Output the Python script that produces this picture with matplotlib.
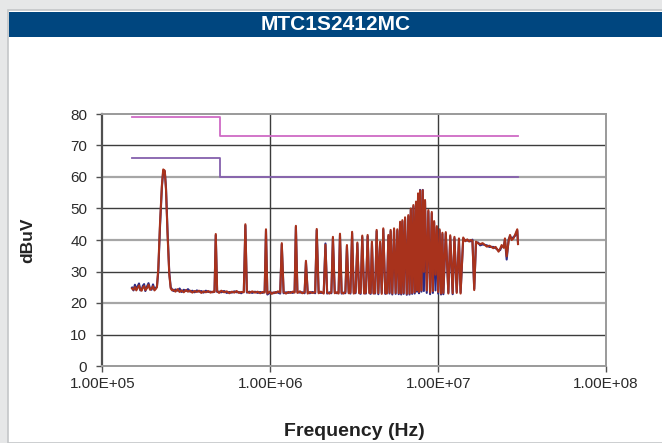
import matplotlib
matplotlib.use("Agg")
import matplotlib.pyplot as plt
from matplotlib.patches import Rectangle
from matplotlib.ticker import FixedLocator, FuncFormatter

# conducted emission scan (Hz, dBuV)
freq_hz = [
    1.50e5, 1.53e5, 1.56e5, 1.59e5, 1.62e5, 1.65e5, 1.68e5, 1.71e5, 1.74e5,
    1.77e5, 1.80e5, 1.84e5, 1.88e5, 1.92e5, 1.96e5, 2.00e5, 2.04e5, 2.08e5,
    2.11e5, 2.15e5, 2.20e5, 2.26e5, 2.30e5, 2.35e5, 2.39e5, 2.44e5, 2.50e5, 2.55e5, 2.60e5,
    2.65e5, 2.72e5, 2.80e5, 2.88e5, 2.96e5, 3.05e5, 3.14e5, 3.23e5, 3.33e5, 3.43e5,
    3.54e5, 3.65e5, 3.76e5, 3.88e5, 4.00e5, 4.13e5, 4.26e5, 4.40e5, 4.55e5, 4.65e5,
    4.73e5, 4.82e5, 4.95e5, 5.10e5, 5.30e5, 5.50e5, 5.70e5, 5.90e5, 6.10e5, 6.30e5,
    6.50e5, 6.70e5, 6.95e5, 7.10e5, 7.25e5, 7.50e5, 7.80e5, 8.10e5,
    8.40e5, 8.70e5, 9.00e5, 9.25e5, 9.42e5, 9.60e5, 9.90e5, 1.02e6,
    1.05e6, 1.08e6, 1.11e6, 1.145e6, 1.17e6, 1.20e6, 1.24e6, 1.28e6,
    1.32e6, 1.36e6, 1.395e6, 1.42e6, 1.45e6, 1.50e6, 1.55e6, 1.60e6,
    1.63e6, 1.67e6, 1.72e6, 1.78e6, 1.85e6, 1.89e6, 1.94e6, 2.00e6,
    2.08e6, 2.13e6, 2.18e6, 2.25e6, 2.31e6, 2.36e6, 2.42e6, 2.49e6,
    2.55e6, 2.60e6, 2.66e6, 2.73e6, 2.80e6, 2.86e6, 2.93e6, 3.00e6,
    3.07e6, 3.14e6, 3.22e6, 3.30e6, 3.38e6, 3.45e6, 3.53e6, 3.62e6,
    3.71e6, 3.80e6, 3.89e6, 3.96e6, 4.03e6, 4.12e6, 4.21e6, 4.30e6,
    4.40e6, 4.51e6, 4.61e6, 4.71e6, 4.84e6, 4.95e6, 5.05e6, 5.13e6,
    5.21e6, 5.33e6, 5.46e6, 5.58e6, 5.71e6, 5.82e6, 5.93e6, 6.02e6,
    6.12e6, 6.23e6, 6.35e6, 6.50e6, 6.64e6, 6.75e6, 6.87e6, 7.00e6,
    7.12e6, 7.25e6, 7.38e6, 7.48e6, 7.59e6, 7.69e6, 7.80e6, 7.95e6,
    8.09e6, 8.22e6, 8.35e6, 8.55e6, 8.74e6, 8.95e6, 9.16e6, 9.30e6,
    9.46e6, 9.64e6, 9.82e6, 1.00e7, 1.02e7, 1.04e7, 1.06e7, 1.074e7,
    1.11e7, 1.15e7, 1.18e7, 1.22e7, 1.25e7, 1.29e7, 1.33e7, 1.36e7,
    1.41e7, 1.45e7, 1.49e7, 1.53e7, 1.56e7, 1.60e7, 1.64e7, 1.68e7,
    1.73e7, 1.78e7, 1.84e7, 1.95e7, 2.02e7, 2.13e7, 2.20e7, 2.29e7,
    2.34e7, 2.39e7, 2.46e7, 2.50e7, 2.56e7, 2.63e7, 2.68e7, 2.74e7,
    2.81e7, 2.88e7, 2.96e7, 2.99e7,
]

red_dbuv = [
    24.6, 24.2, 25.1, 24.0, 24.8, 25.6, 24.3, 23.9, 24.9,
    25.4, 24.1, 24.7, 25.8, 24.2, 24.6, 25.3, 24.0, 24.5,
    25.0, 31.0, 45.0, 57.5, 62.4, 62.0, 56.0, 42.0, 29.0, 24.6, 24.0,
    24.2, 23.6, 24.4, 23.5, 24.0, 23.4, 24.1, 23.6, 23.9, 23.3,
    23.8, 23.5, 23.9, 23.2, 23.7, 23.4, 23.8, 23.3, 23.6, 23.5,
    41.9, 23.8, 23.2, 23.9, 23.4, 23.7, 23.1, 23.6, 23.3, 23.8,
    23.2, 23.5, 23.4, 45.0, 23.6, 23.2, 23.7, 23.3,
    23.6, 23.1, 23.5, 23.3, 43.4, 23.0, 23.6, 22.9,
    23.4, 23.2, 23.7, 23.3, 39.0, 23.4, 23.0, 23.5,
    23.2, 23.6, 23.3, 44.5, 23.2, 23.7, 23.1, 23.4,
    33.4, 23.0, 23.5, 23.2, 23.4, 43.5, 23.1, 23.6,
    23.0, 38.5, 23.3, 23.0, 23.4, 41.0, 23.1, 23.4,
    23.0, 42.0, 23.3, 23.0, 23.5, 38.4, 23.1, 23.3,
    42.6, 23.0, 23.4, 39.2, 23.1, 23.2, 41.4, 23.0,
    23.3, 41.6, 23.1, 23.2, 39.5, 23.0, 23.3, 43.2,
    23.1, 39.5, 22.9, 43.7, 23.2, 23.0, 41.6, 23.3,
    43.2, 23.0, 43.7, 23.2, 43.4, 23.1, 45.8, 23.0,
    46.3, 23.2, 47.2, 22.9, 47.9, 23.0, 50.0, 23.2,
    51.1, 23.4, 52.2, 24.0, 54.8, 23.5, 55.7, 24.0,
    55.8, 29.9, 52.7, 24.0, 49.5, 23.3, 48.9, 23.8,
    46.0, 29.0, 44.4, 23.5, 43.4, 23.0, 42.3, 23.2,
    42.5, 23.0, 41.5, 23.1, 41.0, 23.2, 40.5, 23.0,
    40.8, 39.6, 40.2, 39.5, 40.0, 39.8, 24.1, 39.5,
    38.9, 38.7, 39.0, 37.9, 38.2, 37.4, 37.8, 36.3,
    37.2, 38.4, 37.5, 40.5, 34.8, 39.8, 41.6, 40.0,
    40.5, 41.8, 43.4, 38.7,
]

blue_dbuv = [
    24.9, 24.0, 25.8, 24.4, 25.3, 26.2, 24.0, 24.2, 25.5,
    26.0, 23.8, 25.2, 26.3, 24.5, 24.2, 25.9, 24.3, 24.8,
    25.2, 30.0, 44.0, 57.0, 61.8, 61.8, 56.5, 43.0, 29.5, 25.0, 24.3,
    23.8, 24.3, 23.9, 24.6, 23.5, 24.2, 23.8, 24.4, 23.6, 23.9,
    23.4, 24.0, 23.6, 23.8, 23.3, 23.9, 23.5, 23.6, 23.4, 23.7,
    41.5, 23.5, 23.6, 23.4, 23.8, 23.2, 23.5, 23.3, 23.7, 23.4,
    23.5, 23.1, 23.7, 44.6, 23.3, 23.6, 23.2, 23.6,
    23.2, 23.5, 23.2, 23.6, 43.0, 22.7, 23.2, 23.3,
    23.1, 23.5, 23.3, 23.0, 38.6, 23.1, 23.4, 23.2,
    23.5, 23.2, 23.6, 44.2, 23.5, 23.3, 23.4, 23.1,
    33.0, 23.3, 23.1, 23.5, 23.1, 43.1, 23.4, 23.2,
    23.3, 38.9, 23.0, 23.4, 23.1, 40.6, 23.4, 23.1,
    23.3, 41.6, 23.0, 23.3, 23.1, 38.0, 23.4, 23.0,
    42.2, 23.3, 23.1, 38.8, 23.4, 22.9, 41.0, 23.2,
    23.0, 41.2, 23.3, 22.9, 39.1, 23.2, 23.0, 42.8,
    22.8, 39.1, 23.2, 43.3, 22.9, 23.3, 41.2, 23.0,
    42.8, 22.7, 43.3, 22.9, 43.0, 22.8, 45.4, 22.7,
    45.9, 22.9, 46.8, 22.6, 47.5, 22.7, 49.6, 22.9,
    50.7, 23.0, 51.8, 23.6, 54.4, 23.1, 55.9, 23.6,
    55.9, 23.8, 52.3, 23.2, 49.1, 22.8, 48.5, 23.2,
    45.6, 24.0, 44.0, 23.0, 43.0, 22.7, 41.9, 22.8,
    42.1, 23.3, 41.1, 22.8, 40.6, 23.5, 40.1, 23.3,
    40.4, 39.9, 39.8, 39.8, 39.6, 40.1, 24.5, 39.1,
    39.2, 38.3, 38.6, 38.3, 37.8, 37.8, 37.4, 36.7,
    36.8, 38.0, 37.9, 40.1, 33.8, 40.2, 41.2, 40.4,
    40.9, 41.4, 43.0, 39.0,
]

# EN55022 class A style limit lines
limit_freq = [1.5e5, 5e5, 5e5, 3e7]
qp_limit = [79, 79, 73, 73]
avg_limit = [66, 66, 60, 60]

x_ticks = [1e5, 1e6, 1e7, 1e8]
y_ticks = [0, 10, 20, 30, 40, 50, 60, 70, 80]

TITLE = "MTC1S2412MC"

plt.rcParams['font.family'] = ['Liberation Sans', 'DejaVu Sans']

W, H = 662, 443
fig = plt.figure(figsize=(W / 100, H / 100), dpi=100, facecolor='#e6e7e8')

# white panel + blue header bar (kept behind the axes)
fig.patches.append(Rectangle((8 / W, 0), 1, 1 - 10 / H, transform=fig.transFigure,
                             facecolor='white', edgecolor='#c4c6c8', linewidth=1.2,
                             zorder=-10))
fig.patches.append(Rectangle((9 / W, 1 - 37 / H), 1, 25 / H, transform=fig.transFigure,
                             facecolor='#00467f', edgecolor='none', zorder=-9))
fig.text(336 / W, 1 - 24.5 / H, TITLE, color='white', fontsize=15, fontweight='bold',
         ha='center', va='center')

ax = fig.add_axes([102.5 / W, 1 - 366 / H, (606 - 102.5) / W, (366 - 114) / H])
ax.set_facecolor('white')

ax.plot(freq_hz, blue_dbuv, color='#2b2a86', lw=1.5, zorder=3)
ax.plot(freq_hz, red_dbuv, color='#a8321c', lw=1.5, zorder=4)
ax.plot(limit_freq, qp_limit, color='#cf6ac5', lw=1.3, zorder=2)
ax.plot(limit_freq, avg_limit, color='#8560ad', lw=1.3, zorder=2)

ax.set_xscale('log')
ax.set_xlim(1e5, 1e8)
ax.set_ylim(0, 80)
ax.xaxis.set_major_locator(FixedLocator(x_ticks))
ax.xaxis.set_minor_locator(FixedLocator([]))
ax.xaxis.set_major_formatter(FuncFormatter(lambda v, p: f"{v:.2E}"))
ax.set_yticks(y_ticks)

# grid: alternating dark / light horizontal lines, dark decade lines
for i, yv in enumerate(y_ticks[1:-1]):
    c = '#3c3c3c' if i % 2 == 0 else '#a6a6a6'
    lw = 1.0 if i % 2 == 0 else 1.6
    ax.axhline(yv, color=c, lw=lw, zorder=1)
for xv in x_ticks[1:3]:
    ax.axvline(xv, color='#3c3c3c', lw=1.0, zorder=1)

ax.spines['left'].set_color('#505050')
ax.spines['left'].set_linewidth(1.6)
for s in ['top', 'right', 'bottom']:
    ax.spines[s].set_color('#9a9a9a')
    ax.spines[s].set_linewidth(1.4)

ax.tick_params(axis='both', direction='out', length=4, width=1, color='#505050',
               labelsize=11, labelcolor='#2a2a2a')
ax.tick_params(axis='y', pad=7)
ax.tick_params(axis='x', pad=4)

fig.text(28 / W, 1 - 240 / H, "dBuV", rotation=90, fontsize=12.5, fontweight='bold',
         color='#222222', ha='center', va='center')
fig.text(354 / W, 1 - 432 / H, "Frequency (Hz)", fontsize=14, fontweight='bold',
         color='#222222', ha='center', va='center')

fig.savefig("out.png", dpi=100, facecolor=fig.get_facecolor())
